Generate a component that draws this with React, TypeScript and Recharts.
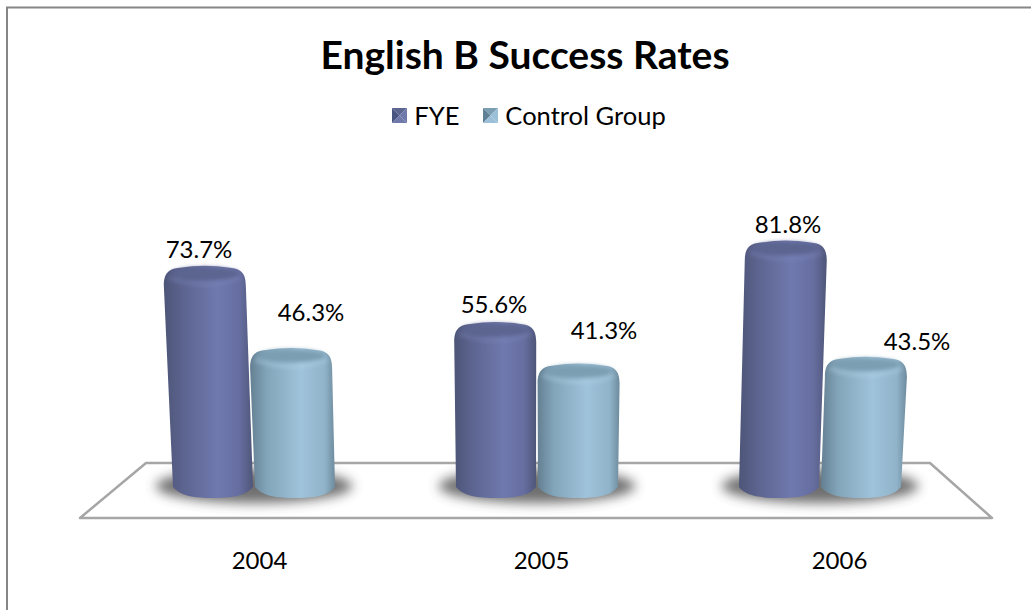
import { BarChart, Bar, XAxis, YAxis, LabelList, Legend } from 'recharts'

const years = ['2004', '2005', '2006']
const fye = [73.7, 55.6, 81.8]
const controlGroup = [46.3, 41.3, 43.5]

const data = years.map((year, i) => ({ year, fye: fye[i], control: controlGroup[i] }))

const font = 'Lato, "Open Sans", sans-serif'
const centerX = 537 // vanishing point of the fake perspective
const lean = 0.00011

// dx, dy of each value label, measured from the top of its bar
const fyeLabelShift = [-14, -17, -2, -19, 9, -17]
const controlLabelShift = [16, -40, 26, -37, 56, -19]
// the year labels sit a little right of the bar pairs
const tickShift = [6, 5, 20]

function Cylinder(props: any) {
  const { x, y, width, height, cap, capEdge, gradId, withShadow } = props
  const baseCx = x + width / 2
  const topCx = baseCx + (baseCx - centerX) * lean * height
  const hw = width / 2
  const top = y
  const bottom = y + height
  const r = 16
  const body = `M${topCx - hw},${top + r + 4}
    C${topCx - hw},${top + 6} ${topCx - hw + 6},${top + 3} ${topCx - hw + r},${top + 2}
    Q${topCx},${top - 2} ${topCx + hw - r},${top + 2}
    C${topCx + hw - 6},${top + 3} ${topCx + hw},${top + 6} ${topCx + hw},${top + r + 4}
    L${baseCx + hw - 1},${bottom - 8}
    C${baseCx + hw - 8},${bottom + 1} ${baseCx + 18},${bottom + 3} ${baseCx},${bottom + 3}
    C${baseCx - 18},${bottom + 3} ${baseCx - hw + 8},${bottom + 1} ${baseCx - hw + 1},${bottom - 8} Z`
  return (
    <g>
      {withShadow && (
        <ellipse
          cx={baseCx + hw}
          cy={bottom - 9}
          rx={width * 1.2}
          ry={17}
          fill="#3f3f3f"
          opacity={0.75}
          filter="url(#shadowBlur)"
        />
      )}
      <path d={body} fill={`url(#${gradId})`} />
      <ellipse
        cx={topCx}
        cy={top + 8}
        rx={hw - 7}
        ry={6.5}
        fill={cap}
        filter="url(#capBlur)"
      />
      <path
        d={`M${topCx - hw + 5},${top + 12} Q${topCx},${top + 25} ${topCx + hw - 5},${top + 12}`}
        fill="none"
        stroke={capEdge}
        strokeWidth={3}
        opacity={0.5}
        filter="url(#capBlur)"
      />
    </g>
  )
}

function FyeBar(props: any) {
  return <Cylinder {...props} gradId="fyeGrad" cap="#5b6590" capEdge="#8089bd" withShadow />
}

function ControlBar(props: any) {
  const shifted = { ...props, y: props.y - 3, height: props.height + 3 }
  return <Cylinder {...shifted} gradId="controlGrad" cap="#7c9eb2" capEdge="#b4d6ec" />
}

function ValueLabel(props: any) {
  const { x, y, width, value, index, shifts } = props
  const dx = shifts[index * 2]
  const dy = shifts[index * 2 + 1]
  return (
    <text
      x={x + width / 2 + dx}
      y={y + dy}
      textAnchor="middle"
      dominantBaseline="central"
      fontFamily={font}
      fontSize={24}
      fill="#000"
    >
      {`${value.toFixed(1)}%`}
    </text>
  )
}

function YearTick(props: any) {
  const { x, y, payload, index } = props
  return (
    <text
      x={x + tickShift[index]}
      y={y + 7}
      textAnchor="middle"
      dominantBaseline="central"
      fontFamily={font}
      fontSize={24}
      fill="#000"
    >
      {payload.value}
    </text>
  )
}

function Swatch({ dark, light, mid }: { dark: string; light: string; mid: string }) {
  const s = 15
  const c = s / 2
  return (
    <svg width={s} height={s} style={{ display: 'block' }}>
      <polygon points={`0,0 ${s},0 ${c},${c}`} fill={mid} />
      <polygon points={`0,0 0,${s} ${c},${c}`} fill={dark} />
      <polygon points={`${s},0 ${s},${s} ${c},${c}`} fill={light} />
      <polygon points={`0,${s} ${s},${s} ${c},${c}`} fill={light} />
    </svg>
  )
}

function LegendBox() {
  const item = { display: 'flex', alignItems: 'center', gap: 7 }
  return (
    <div
      style={{
        display: 'flex',
        justifyContent: 'center',
        gap: 24,
        fontFamily: font,
        fontSize: 25.5,
        color: '#000',
        lineHeight: '30px',
      }}
    >
      <div style={item}>
        <Swatch dark="#4a5480" mid="#5b6590" light="#6f79aa" />
        FYE
      </div>
      <div style={item}>
        <Swatch dark="#5f8095" mid="#7c9eb2" light="#9cc0d8" />
        Control Group
      </div>
    </div>
  )
}

export default function App() {
  return (
    <div style={{ position: 'absolute', left: 0, top: 0, width: 1031, height: 610, background: '#fff' }}>
      <BarChart
        width={1031}
        height={610}
        data={data}
        barSize={82}
        barGap={0}
        barCategoryGap={60}
        margin={{ top: 154, right: 70, left: 112, bottom: 85 }}
      >
        <defs>
          <linearGradient id="fyeGrad" x1="0" y1="0" x2="1" y2="0">
            <stop offset="0" stopColor="#4d5578" />
            <stop offset="0.18" stopColor="#5a628c" />
            <stop offset="0.6" stopColor="#7079ae" />
            <stop offset="0.85" stopColor="#666ea0" />
            <stop offset="1" stopColor="#4f5679" />
          </linearGradient>
          <linearGradient id="controlGrad" x1="0" y1="0" x2="1" y2="0">
            <stop offset="0" stopColor="#648092" />
            <stop offset="0.2" stopColor="#83a5ba" />
            <stop offset="0.6" stopColor="#9fc3da" />
            <stop offset="0.88" stopColor="#90b3c9" />
            <stop offset="1" stopColor="#6e8b9d" />
          </linearGradient>
          <filter id="shadowBlur" x="-20%" y="-60%" width="140%" height="220%">
            <feGaussianBlur stdDeviation="6" />
          </filter>
          <filter id="capBlur" x="-10%" y="-100%" width="120%" height="300%">
            <feGaussianBlur stdDeviation="2" />
          </filter>
        </defs>
        <path d="M7,610 L7,7.5 L1031,7.5" fill="none" stroke="#868686" strokeWidth={2} />
        <polygon
          points="80,518 146,463 930,463 992,518"
          fill="#fff"
          stroke="#a6a6a6"
          strokeWidth={2.5}
          strokeLinejoin="round"
        />
        <text x={525} y={69} textAnchor="middle" fontFamily={font} fontWeight={700} fontSize={39} fill="#000">
          English B Success Rates
        </text>
        <XAxis dataKey="year" axisLine={false} tickLine={false} tick={<YearTick />} tickMargin={51} />
        <YAxis hide domain={[0, 100]} />
        <Legend
          content={<LegendBox />}
          verticalAlign="top"
          wrapperStyle={{ position: 'absolute', top: 100, left: 0, width: 1058, height: 30 }}
        />
        <Bar dataKey="fye" name="FYE" isAnimationActive={false} shape={<FyeBar />}>
          <LabelList dataKey="fye" content={<ValueLabel shifts={fyeLabelShift} />} />
        </Bar>
        <Bar dataKey="control" name="Control Group" isAnimationActive={false} shape={<ControlBar />}>
          <LabelList dataKey="control" content={<ValueLabel shifts={controlLabelShift} />} />
        </Bar>
      </BarChart>
    </div>
  )
}
